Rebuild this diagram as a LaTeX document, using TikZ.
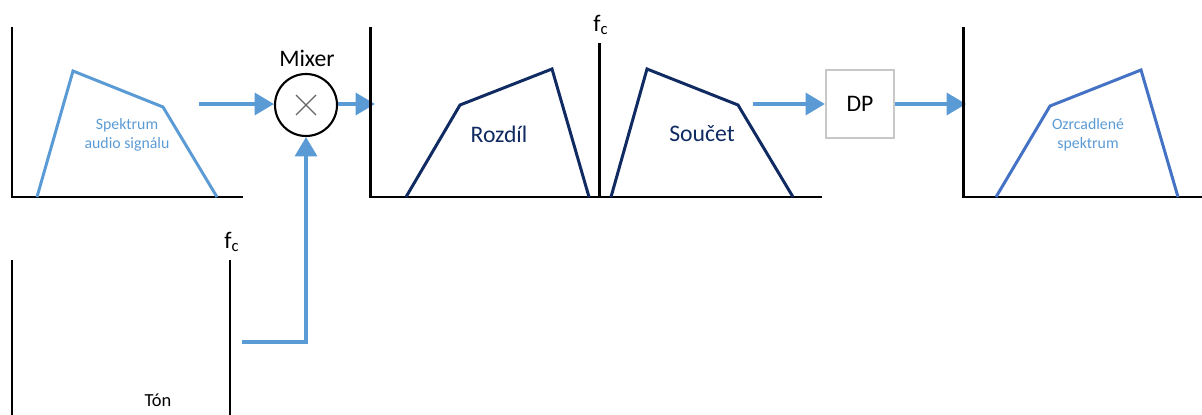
\documentclass[tikz,border=0pt]{standalone}
\usepackage{fontspec}
\setmainfont{Carlito}
\usetikzlibrary{arrows.meta,calc}
\definecolor{lblue}{HTML}{5B9BD5}
\definecolor{mblue}{HTML}{4472C4}
\definecolor{navy}{HTML}{102A62}
\definecolor{boxgray}{HTML}{C8C8C8}
\begin{document}
\begin{tikzpicture}[x=0.02cm,y=-0.02cm,
  axis/.style={line width=1.7pt,black},
  spec/.style={line width=1.7pt,line join=miter},
  tip/.style={-{Triangle[length=11pt,width=12.5pt]}},
  arr/.style={lblue,line width=2pt,tip},
  conn/.style={lblue,line width=2pt},
  lbl/.style={inner sep=0pt,font=\fontsize{13.5}{15}\selectfont}]
\useasboundingbox (0,0) rectangle (1202,415);
% panel 1
\draw[axis] (12,27) -- (12,197) -- (243,197);
\draw[spec,lblue] (37,197) -- (73,71) -- (163,107) -- (217,197);
\node[inner sep=0pt,align=center,text=lblue,font=\fontsize{9}{11}\selectfont] (t1) at (127,135) {Spektrum\\audio signálu};
% mixer
\node[draw,circle,line width=1.2pt,minimum size=62*0.02cm,inner sep=0pt] (mixer) at (306,105) {};
\draw[gray!80!black,line width=0.7pt] ($(mixer)+(-10,-10)$) -- ($(mixer)+(10,10)$) ($(mixer)+(-10,10)$) -- ($(mixer)+(10,-10)$);
\node[lbl] (mixlbl) at (307,58) {Mixer};
\coordinate (in1) at (199,104);
\draw[arr] (in1) -- (in1 -| mixer.west);
\coordinate (p2in) at (375,104);
\draw[arr] (mixer.east |- p2in) -- (p2in);
% panel 2
\draw[axis] (370,27) -- (370,197) -- (822,197);
\draw[axis] (599,43) -- (599,197);
\node[lbl] (fc1) at (601,25) {f\textsubscript{c}};
\draw[spec,navy] (406,197) -- (460,105) -- (552,69) -- (589,197);
\node[lbl,text=navy] (roz) at (499,134) {Rozdíl};
\draw[spec,navy] (611,197) -- (647,69) -- (738,105) -- (793,197);
\node[lbl,text=navy] (sou) at (702,134) {Součet};
% DP
\node[draw=boxgray,line width=1.3pt,minimum size=68*0.02cm,inner sep=0pt,lbl] (dp) at (860,104) {DP};
\coordinate (in2) at (753,104);
\draw[arr] (in2) -- (dp.west);
\coordinate (p3in) at (966,104);
\draw[arr] (dp.east) -- (p3in);
% panel 3
\draw[axis] (963,27) -- (963,197) -- (1202,197);
\draw[spec,mblue] (996,197) -- (1050,106) -- (1141,70) -- (1178,197);
\node[inner sep=0pt,align=center,text=lblue,font=\fontsize{9}{11}\selectfont] (t3) at (1088,135) {Ozrcadlené\\spektrum};
% panel 4
\draw[axis] (12,260) -- (12,415);
\draw[axis] (230,260) -- (230,415);
\node[lbl] (fc2) at (232,242) {f\textsubscript{c}};
\node[inner sep=0pt,font=\fontsize{10.5}{12}\selectfont] (ton) at (158,400) {Tón};
\coordinate (tone) at (242,342);
\draw[conn,tip] (tone) -| (mixer.south);
\end{tikzpicture}
\end{document}
